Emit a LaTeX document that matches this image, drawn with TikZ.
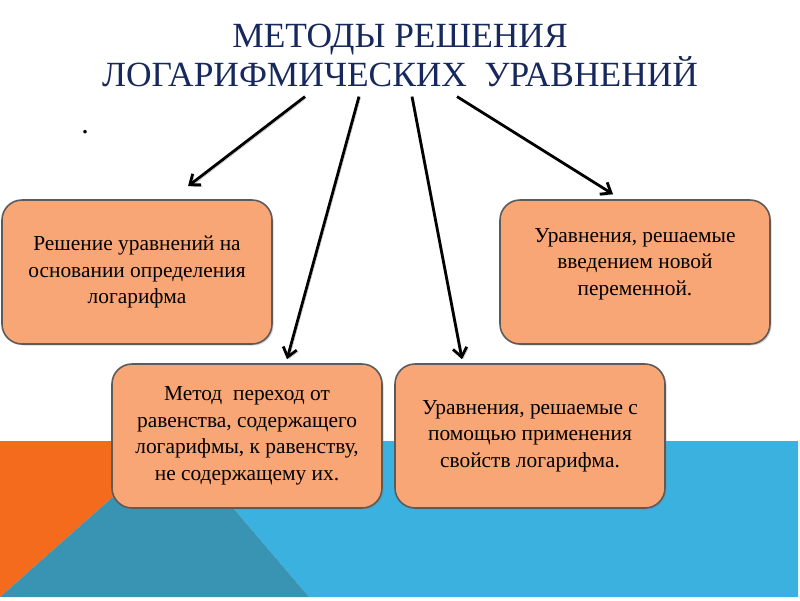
\documentclass[tikz,border=0pt]{standalone}
\usepackage{fontspec}
\setmainfont{Liberation Serif}
\newfontfamily\slideserif{Liberation Serif}
\usetikzlibrary{arrows.meta,positioning,calc,shadows}

\definecolor{bgorange}{HTML}{F46B1E}
\definecolor{bgblue}{HTML}{3AB1DF}
\definecolor{bgteal}{HTML}{3993B3}
\definecolor{boxfill}{HTML}{F9A677}
\definecolor{boxline}{HTML}{5E5A5A}
\definecolor{titleblue}{HTML}{16285C}

\begin{document}
\begin{tikzpicture}[
  x=1pt, y=-1pt,
  font=\slideserif\fontsize{21.4}{26.5}\selectfont,
  title/.style={text=titleblue, align=center, font=\slideserif\fontsize{35.4}{39}\selectfont, inner sep=2pt},
  box/.style={draw=boxline, fill=boxfill, line width=1.6pt, rounded corners=20pt, minimum width=270pt, minimum height=144pt, align=center, inner sep=4pt, drop shadow={shadow xshift=1.5pt, shadow yshift=-1.5pt, opacity=0.35}},
  arrow/.style={-{Straight Barb[length=9pt, width=14pt]}, line width=2.8pt, preaction={draw=gray!60, transform canvas={xshift=1.5pt, yshift=-1.5pt}}},
]
  \useasboundingbox (0,0) rectangle (800,600);

  % background
  \fill[bgorange] (0,441) -- (176,441) -- (0,597) -- cycle;
  \fill[bgblue] (176,441) -- (798,441) -- (798,597) -- (309,597) -- cycle;
  \fill[bgteal] (176,441) -- (309,597) -- (0,597) -- cycle;

  \node[title] (title) at (400,55) {МЕТОДЫ РЕШЕНИЯ\\ЛОГАРИФМИЧЕСКИХ\ \ УРАВНЕНИЙ};
  \node[font=\slideserif\fontsize{30}{30}\selectfont] (dot) at (85,132) {.};

  \node[box] (def) at (137,272) {Решение уравнений на\\основании определения\\логарифма};
  \node[box] (newvar) at (635,272) {};
  \node (newvartext) at ($(newvar)+(0,-8)$) [align=center] {Уравнения, решаемые\\введением новой\\переменной.};
  \node[box] (pass) at (247,436) {Метод\ \ переход от\\равенства, содержащего\\логарифмы, к равенству,\\не содержащему их.};
  \node[box] (props) at (530,436) {Уравнения, решаемые с\\помощью применения\\свойств логарифма.};

  \draw[arrow] ($(title.south)+(-95,8)$) -- ($(def.north)+(51,-13)$);
  \draw[arrow] ($(title.south)+(-41,8)$) -- ($(pass.north)+(40,-4)$);
  \draw[arrow] ($(title.south)+(12,8)$) -- ($(props.north)+(-68,-4)$);
  \draw[arrow] ($(title.south)+(57,8)$) -- ($(newvar.north)+(-22,-5)$);
\end{tikzpicture}
\end{document}
